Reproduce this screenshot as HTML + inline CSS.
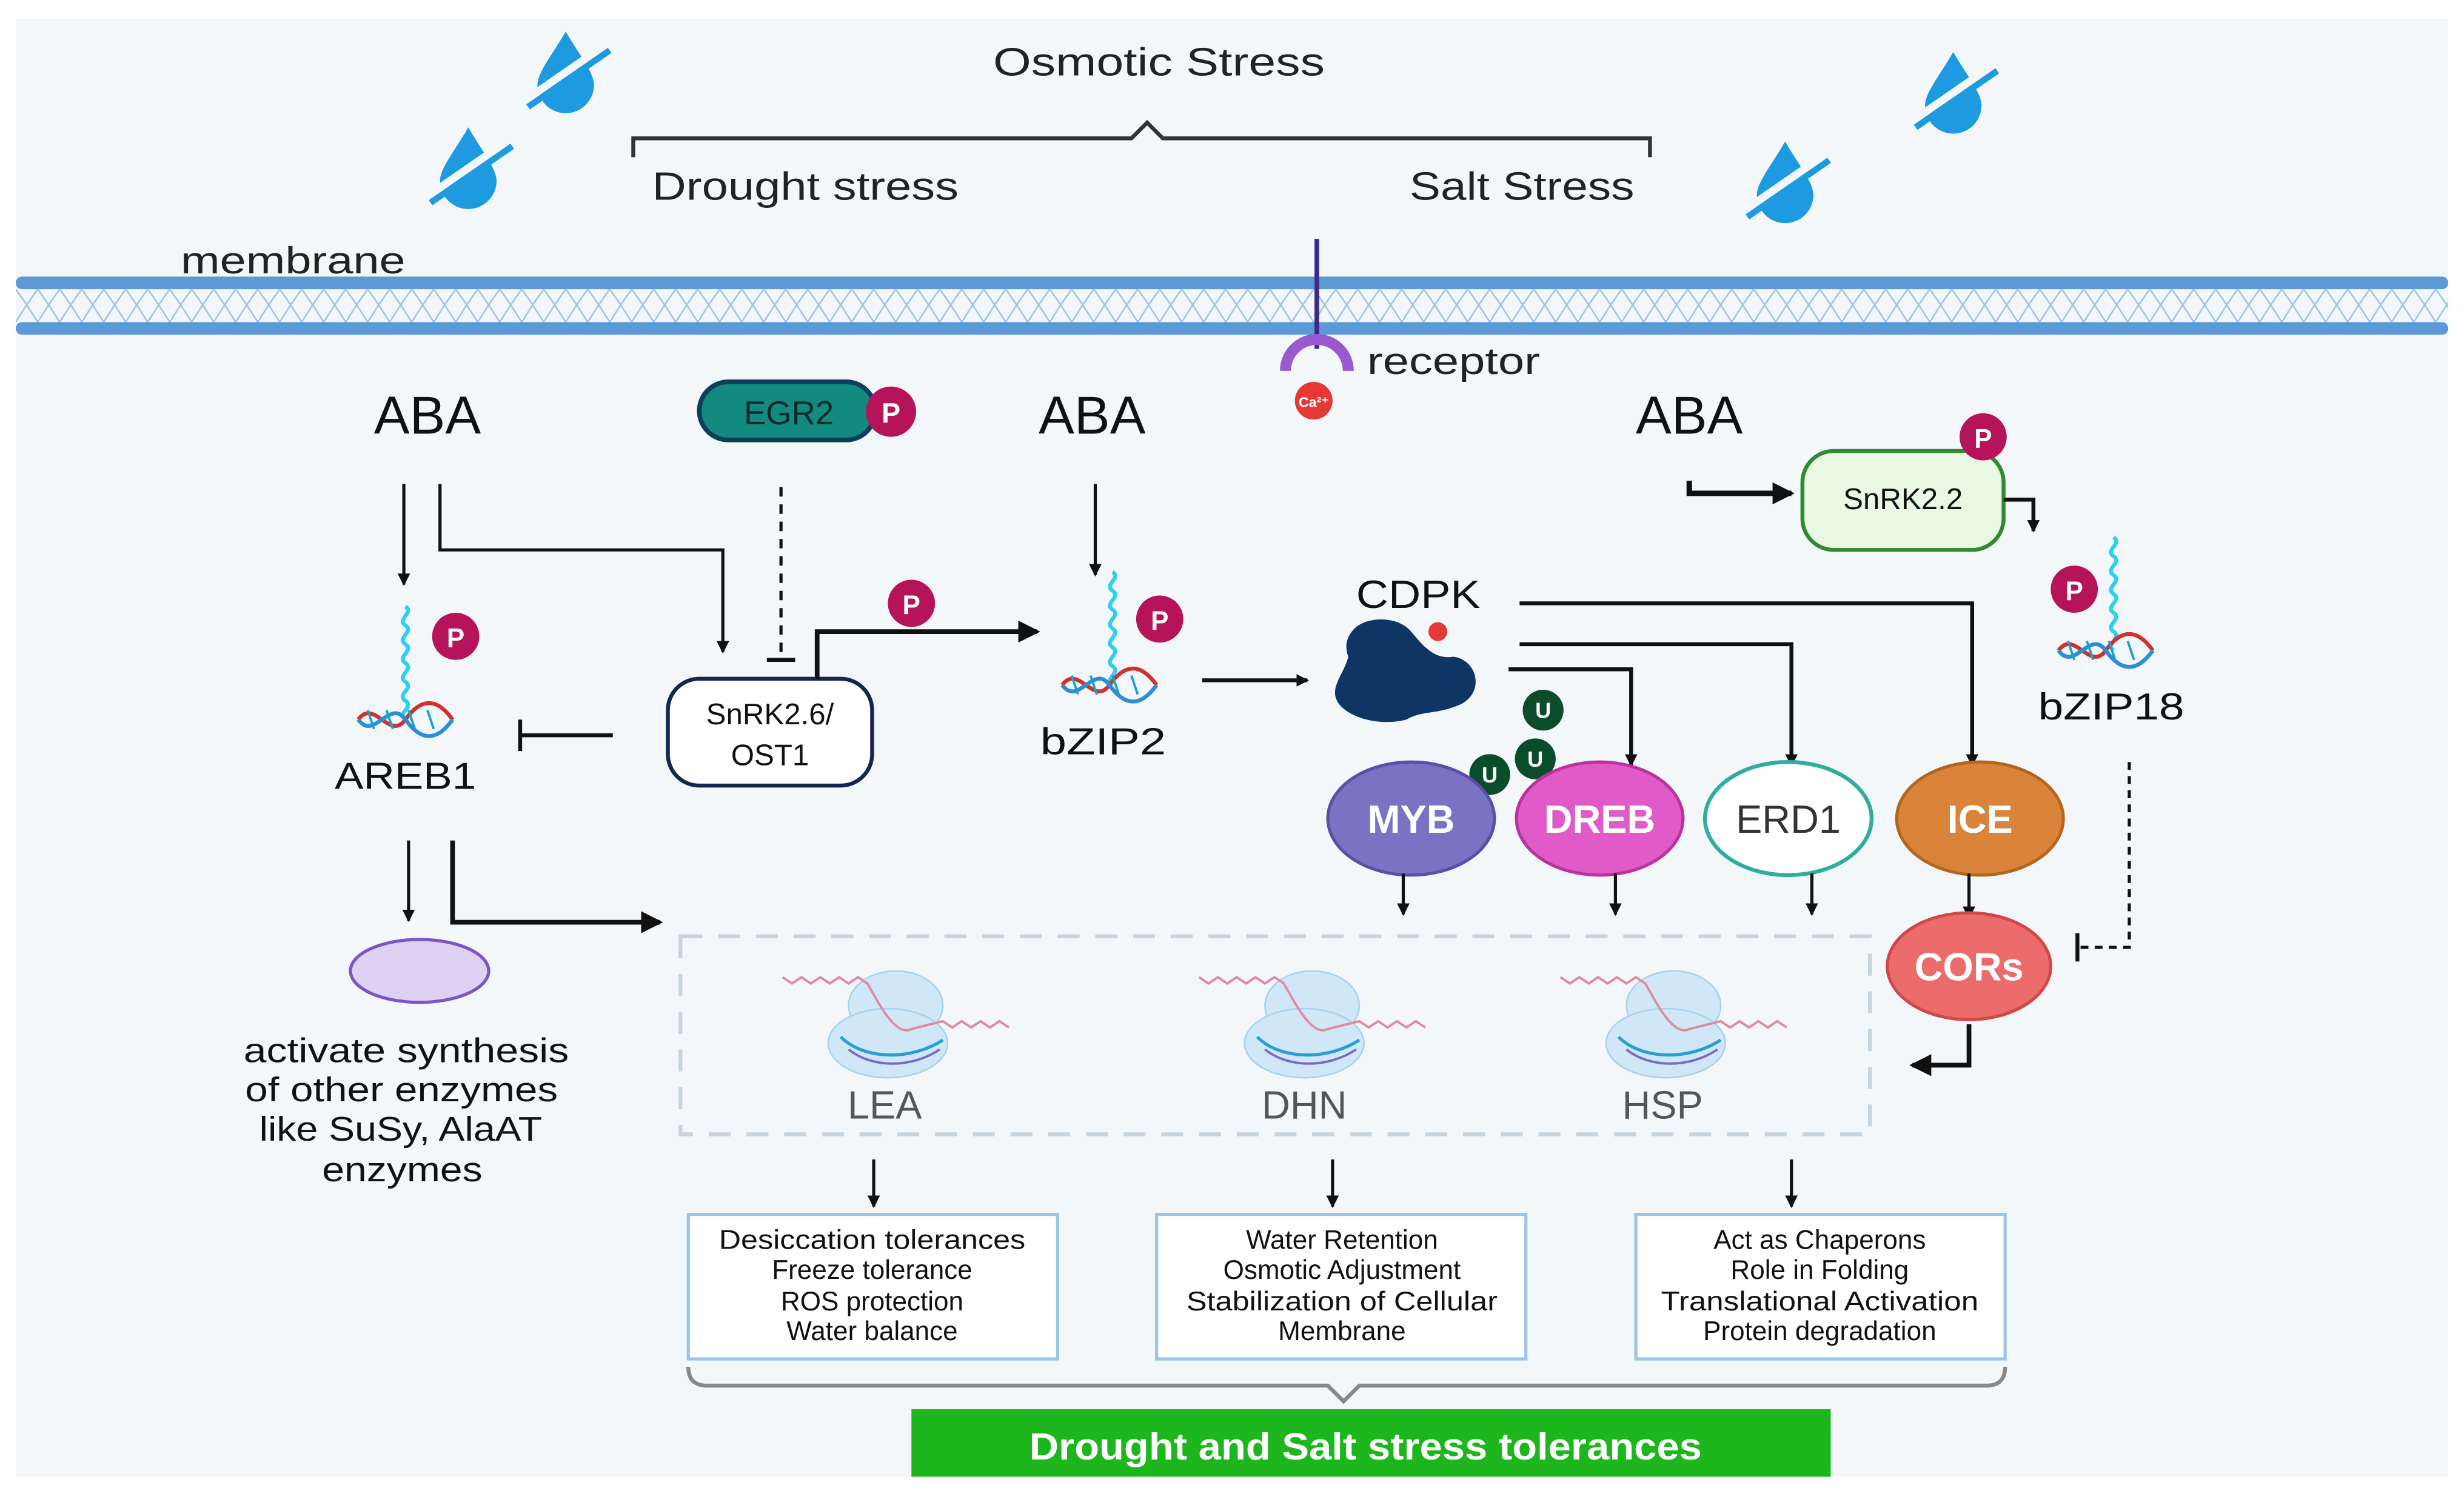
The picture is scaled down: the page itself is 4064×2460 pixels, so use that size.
<!DOCTYPE html>
<html><head><meta charset="utf-8"><style>
html,body{margin:0;padding:0;background:#fff;}
svg{display:block;}
text{font-family:"Liberation Sans",Arial,sans-serif;}
</style></head><body>
<svg width="4064" height="2460" viewBox="0 0 1568 949" xmlns="http://www.w3.org/2000/svg">
<defs>
<marker id="ah" markerWidth="8" markerHeight="8" refX="7" refY="4" orient="auto" markerUnits="userSpaceOnUse"><path d="M0,0 L8,4 L0,8 z" fill="#111"/></marker>
<marker id="ahb" markerWidth="14" markerHeight="14" refX="12" refY="7" orient="auto" markerUnits="userSpaceOnUse"><path d="M0,0 L14,7 L0,14 z" fill="#111"/></marker>
<g id="drop"><path d="M0,-22 C-8,-8 -18,4 -18,12 A18,18 0 0 0 18,12 C18,4 8,-8 0,-22z" fill="#1e9be0"/><line x1="-26" y1="22" x2="26" y2="-14" stroke="#f4f7fa" stroke-width="5"/><line x1="-24" y1="26" x2="28" y2="-10" stroke="#1e9be0" stroke-width="4"/></g>
<g id="ribo"><ellipse cx="0" cy="-10" rx="30" ry="22" fill="#cfe7f6" stroke="#a9d2ef"/><ellipse cx="-5" cy="14" rx="38" ry="22" fill="#cfe7f6" stroke="#a9d2ef"/><path d="M-72,-28 l6,4 l6,-4 l6,4 l6,-4 l6,4 l6,-4 l6,4 l6,-4 l6,4 C-10,-10 0,10 10,5 L30,0 l6,4 l6,-4 l6,4 l6,-4 l6,4 l6,-4 l6,4" fill="none" stroke="#e08aa0" stroke-width="1.5"/><path d="M-35,10 C-20,25 10,25 30,12" fill="none" stroke="#2a9fd6" stroke-width="2"/><path d="M-30,18 C-15,30 10,30 28,18" fill="none" stroke="#7a6ac8" stroke-width="1.5"/></g>
<g id="dna"><path d="M-30,0 C-20,-14 -10,14 0,0 S20,-14 30,0" fill="none" stroke="#d0312d" stroke-width="2.5"/><path d="M-30,0 C-20,14 -10,-14 0,0 S20,14 30,0" fill="none" stroke="#2a8fd6" stroke-width="2.5"/><path d="M-24,-6 l4,12 M-12,-6 l4,12 M2,-6 l4,12 M14,-6 l4,12" stroke="#1ba0d0" stroke-width="1.5"/></g>
<g id="helix"><path d="M0,0 c-6,-4 6,-8 0,-12 c-6,-4 6,-8 0,-12 c-6,-4 6,-8 0,-12 c-6,-4 6,-8 0,-12 c-6,-4 6,-8 0,-12 c-6,-4 6,-8 0,-12" fill="none" stroke="#2ed0f0" stroke-width="2.5"/></g>
<pattern id="memz" x="10" y="184" width="14" height="21" patternUnits="userSpaceOnUse"><path d="M0,0 L7,10 L0,21 M14,0 L7,10 L14,21" fill="none" stroke="#9cc4ea" stroke-width="1"/></pattern>
</defs>
<rect x="0" y="0" width="1568" height="949" fill="#fff"/>
<rect x="10" y="12" width="1548" height="928" fill="#f4f7fa"/>

<use href="#drop" transform="translate(360,42)"/>
<use href="#drop" transform="translate(298,103)"/>
<use href="#drop" transform="translate(1243,55)"/>
<use href="#drop" transform="translate(1136,112)"/>

<text x="632" y="48" font-size="25" fill="#222" textLength="211" lengthAdjust="spacingAndGlyphs">Osmotic  Stress</text>
<path d="M403,100 V88 H720 L730,78 L740,88 H1050 V100" fill="none" stroke="#333" stroke-width="2.5"/>
<text x="415" y="127" font-size="25" fill="#222" textLength="195" lengthAdjust="spacingAndGlyphs">Drought stress</text>
<text x="897" y="127" font-size="25" fill="#222" textLength="143" lengthAdjust="spacingAndGlyphs">Salt Stress</text>
<text x="115" y="174" font-size="24" fill="#222" textLength="143" lengthAdjust="spacingAndGlyphs">membrane</text>

<rect x="10" y="176" width="1548" height="8" fill="#5b9ad6" rx="4"/>
<rect x="10" y="205" width="1548" height="8" fill="#5b9ad6" rx="4"/>
<rect x="10" y="184" width="1548" height="21" fill="url(#memz)"/>

<line x1="838" y1="152" x2="838" y2="222" stroke="#3b2a8a" stroke-width="3"/>
<path d="M818,236 A20,20 0 0 1 858,236" fill="none" stroke="#9b59d0" stroke-width="7"/>
<circle cx="836" cy="255" r="12" fill="#e53935"/>
<text x="836" y="259" font-size="9" fill="#fff" text-anchor="middle" font-weight="bold">Ca²⁺</text>
<text x="870" y="238" font-size="24" fill="#222" textLength="110" lengthAdjust="spacingAndGlyphs">receptor</text>

<text x="272" y="276" font-size="34" fill="#111" text-anchor="middle">ABA</text>
<text x="695" y="276" font-size="34" fill="#111" text-anchor="middle">ABA</text>
<text x="1075" y="276" font-size="34" fill="#111" text-anchor="middle">ABA</text>

<rect x="445" y="243" width="112" height="37" rx="18.5" fill="#138a80" stroke="#0c3f5c" stroke-width="3"/>
<text x="502" y="270" font-size="21" fill="#0a2a2a" text-anchor="middle">EGR2</text>
<circle cx="567" cy="262" r="16" fill="#b5135a"/><text x="567" y="269" font-size="18" fill="#fff" text-anchor="middle" font-weight="bold">P</text>

<line x1="257" y1="308" x2="257" y2="372" stroke="#111" stroke-width="2" marker-end="url(#ah)"/>
<path d="M280,308 V350 H460 V415" fill="none" stroke="#111" stroke-width="2" marker-end="url(#ah)"/>
<line x1="497" y1="310" x2="497" y2="417" stroke="#111" stroke-width="2" stroke-dasharray="6,5"/>
<line x1="488" y1="420" x2="506" y2="420" stroke="#111" stroke-width="2.5"/>

<rect x="425" y="432" width="130" height="68" rx="20" fill="#fff" stroke="#14284f" stroke-width="2.5"/>
<text x="490" y="461" font-size="19" text-anchor="middle" fill="#111">SnRK2.6/</text>
<text x="490" y="487" font-size="19" text-anchor="middle" fill="#111">OST1</text>
<path d="M520,432 V402 H660" fill="none" stroke="#111" stroke-width="3" marker-end="url(#ahb)"/>
<circle cx="580" cy="384" r="15" fill="#b5135a"/><text x="580" y="391" font-size="17" fill="#fff" text-anchor="middle" font-weight="bold">P</text>

<use href="#helix" transform="translate(258,458)"/>
<use href="#dna" transform="translate(258,458)"/>
<circle cx="290" cy="405" r="15" fill="#b5135a"/><text x="290" y="412" font-size="17" fill="#fff" text-anchor="middle" font-weight="bold">P</text>
<text x="213" y="502" font-size="24" fill="#111" textLength="90" lengthAdjust="spacingAndGlyphs">AREB1</text>
<line x1="390" y1="468" x2="332" y2="468" stroke="#111" stroke-width="2.5"/>
<line x1="331" y1="458" x2="331" y2="478" stroke="#111" stroke-width="2.5"/>

<line x1="697" y1="308" x2="697" y2="366" stroke="#111" stroke-width="2" marker-end="url(#ah)"/>
<use href="#helix" transform="translate(708,436)"/>
<use href="#dna" transform="translate(706,436)"/>
<circle cx="738" cy="394" r="15" fill="#b5135a"/><text x="738" y="401" font-size="17" fill="#fff" text-anchor="middle" font-weight="bold">P</text>
<text x="662" y="480" font-size="24" fill="#111" textLength="80" lengthAdjust="spacingAndGlyphs">bZIP2</text>
<line x1="765" y1="433" x2="832" y2="433" stroke="#111" stroke-width="2.5" marker-end="url(#ah)"/>

<text x="863" y="387" font-size="25" fill="#111" textLength="79" lengthAdjust="spacingAndGlyphs">CDPK</text>
<path d="M862,400 C870,392 890,392 898,402 C905,410 912,420 925,418 C940,420 945,440 930,448 C915,455 905,452 895,458 C880,462 860,458 852,448 C845,438 855,430 858,418 C855,410 858,404 862,400z" fill="#0f3564"/>
<circle cx="915" cy="402" r="6" fill="#e53935"/>
<path d="M967,384 H1255 V487" fill="none" stroke="#111" stroke-width="2.5" marker-end="url(#ah)"/>
<path d="M967,410 H1140 V487" fill="none" stroke="#111" stroke-width="2.5" marker-end="url(#ah)"/>
<path d="M960,426 H1038 V487" fill="none" stroke="#111" stroke-width="2.5" marker-end="url(#ah)"/>

<g font-size="14" fill="#fff" text-anchor="middle" font-weight="bold">
<circle cx="982" cy="452" r="13" fill="#0b4d2a"/><text x="982" y="457">U</text>
<circle cx="977" cy="483" r="13" fill="#0b4d2a"/><text x="977" y="488">U</text>
<circle cx="948" cy="493" r="13" fill="#0b4d2a"/><text x="948" y="498">U</text>
</g>

<ellipse cx="898" cy="521" rx="53" ry="36" fill="#7b72c4" stroke="#5a4fa8" stroke-width="2"/>
<text x="898" y="530" font-size="25" fill="#fff" text-anchor="middle" font-weight="bold">MYB</text>
<ellipse cx="1018" cy="521" rx="53" ry="36" fill="#e05bc7" stroke="#b9329f" stroke-width="2"/>
<text x="1018" y="530" font-size="25" fill="#fff" text-anchor="middle" font-weight="bold">DREB</text>
<ellipse cx="1138" cy="521" rx="53" ry="36" fill="#fff" stroke="#2fae9c" stroke-width="2.5"/>
<text x="1138" y="530" font-size="25" fill="#333" text-anchor="middle">ERD1</text>
<ellipse cx="1260" cy="521" rx="53" ry="36" fill="#d9843a" stroke="#b5661e" stroke-width="2"/>
<text x="1260" y="530" font-size="25" fill="#fff" text-anchor="middle" font-weight="bold">ICE</text>

<g stroke="#111" stroke-width="2" marker-end="url(#ah)">
<line x1="893" y1="556" x2="893" y2="582"/>
<line x1="1028" y1="556" x2="1028" y2="582"/>
<line x1="1153" y1="556" x2="1153" y2="582"/>
<line x1="1253" y1="556" x2="1253" y2="584"/>
</g>
<ellipse cx="1253" cy="615" rx="52" ry="34" fill="#ec6c6c" stroke="#d04848" stroke-width="2"/>
<text x="1253" y="624" font-size="25" fill="#fff" text-anchor="middle" font-weight="bold">CORs</text>
<path d="M1355,485 V603 H1324" fill="none" stroke="#111" stroke-width="2" stroke-dasharray="5,4"/>
<line x1="1322" y1="594" x2="1322" y2="612" stroke="#111" stroke-width="2.5"/>
<path d="M1253,652 V678 H1217" fill="none" stroke="#111" stroke-width="3" marker-end="url(#ahb)"/>

<path d="M1075,306 V314 H1140" fill="none" stroke="#111" stroke-width="3.5" marker-end="url(#ahb)"/>
<rect x="1147" y="287" width="128" height="63" rx="20" fill="#e8f8e3" stroke="#2e8b2e" stroke-width="2.5"/>
<text x="1211" y="324" font-size="19" text-anchor="middle" fill="#111">SnRK2.2</text>
<circle cx="1262" cy="278" r="15" fill="#b5135a"/><text x="1262" y="285" font-size="17" fill="#fff" text-anchor="middle" font-weight="bold">P</text>
<path d="M1275,318 H1294 V338" fill="none" stroke="#111" stroke-width="2.5" marker-end="url(#ah)"/>

<use href="#helix" transform="translate(1345,414)"/>
<use href="#dna" transform="translate(1340,414)"/>
<circle cx="1320" cy="375" r="15" fill="#b5135a"/><text x="1320" y="382" font-size="17" fill="#fff" text-anchor="middle" font-weight="bold">P</text>
<text x="1297" y="458" font-size="24" fill="#111" textLength="93" lengthAdjust="spacingAndGlyphs">bZIP18</text>

<line x1="260" y1="535" x2="260" y2="586" stroke="#111" stroke-width="2" marker-end="url(#ah)"/>
<path d="M288,535 V587 H420" fill="none" stroke="#111" stroke-width="3" marker-end="url(#ahb)"/>
<ellipse cx="267" cy="618" rx="44" ry="20" fill="#ddd2f3" stroke="#7b55c8" stroke-width="2"/>
<g font-size="22" fill="#111">
<text x="155" y="676" textLength="207" lengthAdjust="spacingAndGlyphs">activate synthesis</text>
<text x="156" y="701" textLength="199" lengthAdjust="spacingAndGlyphs">of other enzymes</text>
<text x="165" y="726" textLength="180" lengthAdjust="spacingAndGlyphs">like SuSy, AlaAT</text>
<text x="205" y="752" textLength="102" lengthAdjust="spacingAndGlyphs">enzymes</text>
</g>

<rect x="433" y="596" width="757" height="126" fill="none" stroke="#c8d4dc" stroke-width="2.5" stroke-dasharray="14,10"/>
<use href="#ribo" transform="translate(570,650)"/>
<use href="#ribo" transform="translate(835,650)"/>
<use href="#ribo" transform="translate(1065,650)"/>
<g font-size="25" fill="#555" text-anchor="middle">
<text x="563" y="712">LEA</text><text x="830" y="712">DHN</text><text x="1058" y="712">HSP</text>
</g>
<g stroke="#111" stroke-width="2" marker-end="url(#ah)">
<line x1="556" y1="738" x2="556" y2="768"/>
<line x1="848" y1="738" x2="848" y2="768"/>
<line x1="1140" y1="738" x2="1140" y2="768"/>
</g>
<g fill="#fff" stroke="#9cc4e4" stroke-width="2">
<rect x="438" y="773" width="235" height="92"/>
<rect x="736" y="773" width="235" height="92"/>
<rect x="1041" y="773" width="235" height="92"/>
</g>
<g font-size="17" text-anchor="middle" fill="#111">
<text x="555" y="795" textLength="195" lengthAdjust="spacingAndGlyphs">Desiccation tolerances</text><text x="555" y="814">Freeze tolerance</text><text x="555" y="834">ROS protection</text><text x="555" y="853">Water balance</text>
<text x="854" y="795">Water Retention</text><text x="854" y="814">Osmotic Adjustment</text><text x="854" y="834" textLength="198" lengthAdjust="spacingAndGlyphs">Stabilization of Cellular</text><text x="854" y="853">Membrane</text>
<text x="1158" y="795">Act as Chaperons</text><text x="1158" y="814">Role in Folding</text><text x="1158" y="834" textLength="202" lengthAdjust="spacingAndGlyphs">Translational Activation</text><text x="1158" y="853">Protein degradation</text>
</g>
<path d="M438,870 Q438,882 450,882 H845 L855,892 L865,882 H1264 Q1276,882 1276,870" fill="none" stroke="#888" stroke-width="2.5"/>
<rect x="580" y="897" width="585" height="43" fill="#1db71d"/>
<text x="655" y="929" font-size="24" fill="#fff" font-weight="bold" textLength="428" lengthAdjust="spacingAndGlyphs">Drought and Salt stress tolerances</text>
</svg>
</body></html>
